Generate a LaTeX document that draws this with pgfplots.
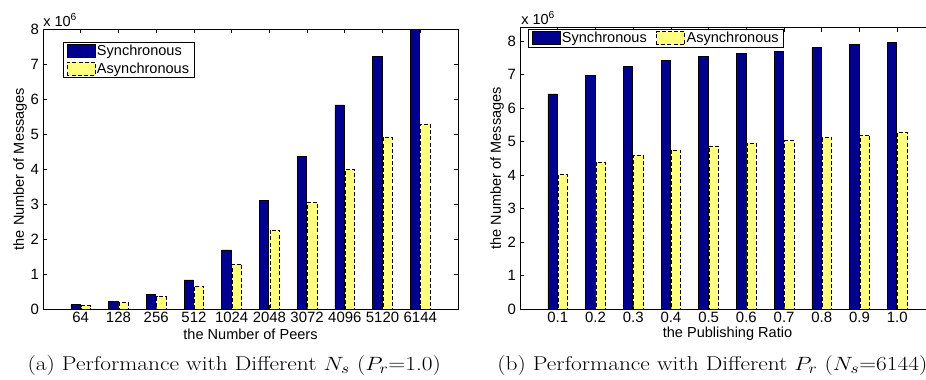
\documentclass[border=0pt]{standalone}
\usepackage{fontspec}
\usepackage{graphicx}
\usepackage{pgfplots}
\pgfplotsset{compat=1.18}
\newfontfamily\arial{Liberation Sans}
\definecolor{syncc}{RGB}{0,0,143}
\definecolor{asyncc}{RGB}{255,255,128}
\pgfplotsset{
  mystyle/.style={
    scale only axis, width=311.25pt,
    xmin=0, xmax=11, ymin=0,
    xtick={1,...,10}, ytick={0,...,8},
    tick align=inside, xtick pos=both, ytick pos=both,
    major tick length=3.2pt,
    axis line style={line width=0.7pt},
    tick style={line width=0.5pt, black},
    ticklabel style={font=\arial\fontsize{11.2}{12}\selectfont},
    /pgf/number format/assume math mode=true,
    xticklabel style={yshift=1pt},
    yticklabel style={xshift=0.5pt},
    scaled y ticks=false,
    every axis y label/.style={at={(axis description cs:-0.0554,0.5)}, anchor=center, rotate=90, font=\arial\fontsize{10.9}{12}\selectfont},
    every axis x label/.style={at={(axis description cs:0.5,0)}, anchor=center, yshift=-18.75pt, font=\arial\fontsize{10.9}{12}\selectfont},
    legend style={font=\arial\fontsize{10.9}{12}\selectfont, draw=black, line width=0.7pt, inner xsep=2.5pt, inner ysep=0.8pt, nodes={inner sep=1.2pt}},
    legend cell align=left,
  },
  syncbar/.style={ybar, bar width=7pt, bar shift=-3.9pt, fill=syncc, draw=black, line width=0.5pt,
    legend image code/.code={\draw[fill=syncc, draw=black, line width=0.5pt] (0pt,-4.9pt) rectangle (21pt,4.9pt);}},
  asyncbar/.style={ybar, bar width=7pt, bar shift=3.9pt, fill=asyncc, draw=black, line width=0.5pt, dash pattern=on 3pt off 1.6pt,
    legend image code/.code={\draw[fill=asyncc, draw=black, line width=0.5pt, dash pattern=on 3pt off 1.6pt] (0pt,-4.9pt) rectangle (21pt,4.9pt);}},
}
\begin{document}
\begin{tikzpicture}
\path[use as bounding box] (0,0) rectangle (694.5pt,284.25pt);
\clip (0,0) rectangle (694.5pt,284.25pt);
\begin{axis}[mystyle, at={(32.25pt,52.5pt)}, anchor=south west,
  height=210pt, ymax=8,
  xticklabels={64,128,256,512,1024,2048,3072,4096,5120,6144},
  xlabel={the Number of Peers}, ylabel={the Number of Messages},
  legend style={at={(0.048,0.954)}, anchor=north west, row sep=1.5pt},
]
\addplot[syncbar] coordinates {(1,0.12) (2,0.21) (3,0.42) (4,0.83) (5,1.69) (6,3.10) (7,4.37) (8,5.83) (9,7.22) (10,7.98)};
\addplot[asyncbar] coordinates {(1,0.10) (2,0.18) (3,0.35) (4,0.66) (5,1.29) (6,2.26) (7,3.06) (8,3.98) (9,4.90) (10,5.29)};
\legend{Synchronous,Asynchronous}
\end{axis}
\begin{axis}[mystyle, at={(390pt,52.5pt)}, anchor=south west,
  height=211pt, ymax=8.4,
  xticklabels={0.1,0.2,0.3,0.4,0.5,0.6,0.7,0.8,0.9,1.0},
  xlabel={the Publishing Ratio}, ylabel={the Number of Messages},
  legend columns=2,
  legend style={at={(0.019,0.9965)}, anchor=north west, /tikz/every even column/.append style={column sep=6pt}},
]
\addplot[syncbar] coordinates {(1,6.42) (2,6.97) (3,7.24) (4,7.41) (5,7.54) (6,7.62) (7,7.70) (8,7.80) (9,7.89) (10,7.96)};
\addplot[asyncbar] coordinates {(1,4.01) (2,4.39) (3,4.60) (4,4.75) (5,4.87) (6,4.96) (7,5.03) (8,5.12) (9,5.20) (10,5.28)};
\legend{Synchronous,Asynchronous}
\end{axis}
\node[anchor=west, inner sep=0pt, font=\arial\fontsize{10.9}{12}\selectfont] at (32.25pt,269.25pt) {x 10\textsuperscript{6}};
\node[anchor=west, inner sep=0pt, font=\arial\fontsize{10.9}{12}\selectfont] at (390.75pt,270.75pt) {x 10\textsuperscript{6}};
\node[anchor=west, inner sep=0pt, font=\fontsize{15}{17}\selectfont] at (20.5pt,9.75pt) {\scalebox{1.17}[1]{(a) Performance with Different $N_s$ ($P_r$=1.0)}};
\node[anchor=west, inner sep=0pt, font=\fontsize{15}{17}\selectfont] at (372.75pt,9.75pt) {\scalebox{1.17}[1]{(b) Performance with Different $P_r$ ($N_s$=6144)}};
\end{tikzpicture}
\end{document}
